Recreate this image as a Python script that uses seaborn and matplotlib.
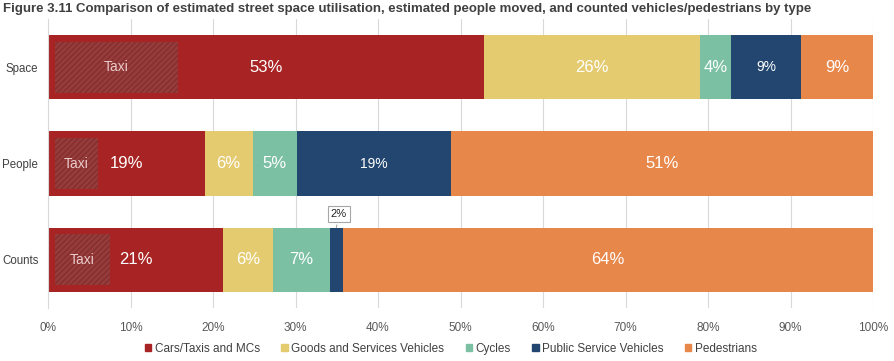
import matplotlib
matplotlib.use("Agg")
import matplotlib.pyplot as plt
import matplotlib.patches as mpatches
from matplotlib import font_manager
import seaborn as sns
import numpy as np
import pandas as pd

# ---- data ----
categories = ["Space", "People", "Counts"]
series_names = ["Cars/Taxis and MCs", "Goods and Services Vehicles", "Cycles",
                "Public Service Vehicles", "Pedestrians"]
cars = [52.8, 19.0, 21.2]
goods = [26.2, 5.8, 6.1]
cycles = [3.8, 5.4, 6.9]
psv = [8.5, 18.6, 1.5]
pedestrians = [8.7, 51.2, 64.3]
labels_cars = ["53%", "19%", "21%"]
labels_goods = ["26%", "6%", "6%"]
labels_cycles = ["4%", "5%", "7%"]
labels_psv = ["9%", "19%", "2%"]
labels_ped = ["9%", "51%", "64%"]
taxi_share = [14.9, 5.2, 6.7]
x_ticks = [0, 10, 20, 30, 40, 50, 60, 70, 80, 90, 100]
x_tick_labels = [f"{t}%" for t in x_ticks]
title = "Figure 3.11 Comparison of estimated street space utilisation, estimated people moved, and counted vehicles/pedestrians by type"

colors = ["#A82424", "#E5CB70", "#7BC0A3", "#22466F", "#E8874A"]

sns.set_theme(style="white")
avail = {f.name for f in font_manager.fontManager.ttflist}
base_font = "Liberation Sans" if "Liberation Sans" in avail else "DejaVu Sans"
title_font = "Liberation Sans Narrow" if "Liberation Sans Narrow" in avail else base_font
plt.rcParams["font.family"] = [base_font, "DejaVu Sans"]

fig = plt.figure(figsize=(8.94, 3.61), dpi=100)
W, H = 894, 361
ax = fig.add_axes([48 / W, 1 - 308 / H, (873 - 48) / W, (308 - 19) / H])

values = [cars, goods, cycles, psv, pedestrians]
all_labels = [labels_cars, labels_goods, labels_cycles, labels_psv, labels_ped]
cum = np.cumsum(np.array(values), axis=0)

bar_w = 0.67
# draw cumulative bars from last to first so they stack visually
for i in range(len(values) - 1, -1, -1):
    df = pd.DataFrame({"cat": categories, "val": cum[i]})
    sns.barplot(data=df, x="val", y="cat", orient="h", color=colors[i],
                width=bar_w, saturation=1, ax=ax, linewidth=0, zorder=2)

ax.set_xlim(0, 100)
ax.set_ylim(2.5, -0.5)
ax.set_xticks(x_ticks)
ax.set_xticklabels(x_tick_labels, fontsize=8.5, color="#595959")
ax.set_yticks(range(len(categories)))
ax.set_yticklabels(categories, fontsize=8.3, color="#404040")
ax.tick_params(axis="x", length=0, pad=10)
ax.tick_params(axis="y", length=0, pad=7)
ax.set_xlabel("")
ax.set_ylabel("")
ax.grid(axis="x", color="#D9D9D9", linewidth=0.8, zorder=0)
ax.set_axisbelow(True)
for s in ["top", "right", "bottom"]:
    ax.spines[s].set_visible(False)
ax.spines["left"].set_color("#D9D9D9")
ax.spines["left"].set_linewidth(0.8)

# taxi overlays
inset_x = 0.85
inset_y = 0.07
for j, t in enumerate(taxi_share):
    rect = mpatches.Rectangle((inset_x, j - bar_w / 2 + inset_y), t, bar_w - 2 * inset_y,
                              facecolor="#904545", alpha=0.7, edgecolor="#7A2A2A",
                              hatch="//////", linewidth=0, zorder=3)
    ax.add_patch(rect)
    ax.text(inset_x + t / 2, j, "Taxi", ha="center", va="center",
            fontsize=10, color="#EBCBCB", zorder=4)

# segment labels
sizes = [12, 12, 12, 10, 12]
for i in range(len(values)):
    for j in range(len(categories)):
        start = cum[i][j] - values[i][j]
        center = start + values[i][j] / 2
        if i == 3 and j == 2:
            ax.annotate(all_labels[i][j], xy=(center, j - bar_w / 2),
                        xytext=(center + 0.3, j - bar_w / 2 - 0.14),
                        ha="center", va="center", fontsize=8, color="#222222",
                        bbox=dict(boxstyle="square,pad=0.25", fc="white", ec="#A6A6A6", lw=0.8),
                        arrowprops=dict(arrowstyle="-", color="#A6A6A6", lw=0.8),
                        zorder=5)
            continue
        ax.text(center, j, all_labels[i][j], ha="center", va="center",
                fontsize=sizes[i], color="white", zorder=4)

# legend
handles = [mpatches.Patch(color=c, label=n) for c, n in zip(colors, series_names)]
fig.legend(handles=handles, loc="center", bbox_to_anchor=(451 / W, 1 - 349 / H), ncol=5,
           frameon=False, fontsize=8.5, handlelength=0.55, handleheight=0.55, handletextpad=0.3,
           columnspacing=1.8, labelcolor="#404040")

fig.text(3 / W, 1 - 9 / H, title, ha="left", va="center", fontsize=9.5,
         fontweight="bold", color="#404040", family=[title_font, "DejaVu Sans"])

fig.savefig("out.png", dpi=100)
